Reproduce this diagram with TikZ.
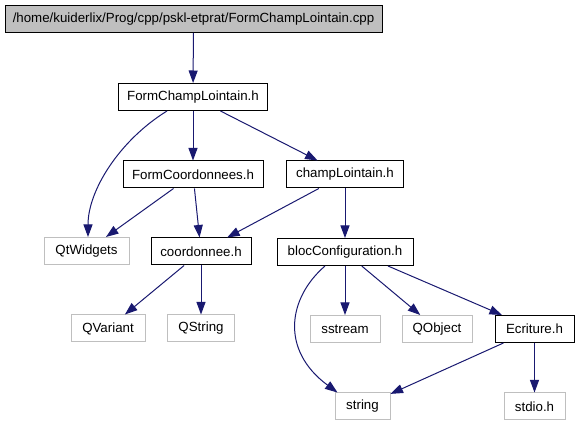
\documentclass[tikz,border=0pt]{standalone}
\usepackage{fontspec}
\setmainfont{Liberation Sans}
\usepackage{tikz}
\usetikzlibrary{arrows.meta,positioning}
\definecolor{edgeblue}{RGB}{25, 25, 112}
\definecolor{boxgray}{RGB}{191, 191, 191}

\begin{document}
\begin{tikzpicture}[x=1pt,y=-1pt,font=\fontsize{13.3}{15}\selectfont,
  hdr/.style={draw=black,fill=white,line width=1pt,minimum height=27pt,inner sep=0pt},
  sys/.style={draw=boxgray,fill=white,line width=1pt,minimum height=27pt,inner sep=0pt},
  dep/.style={edgeblue,line width=1pt,-{Triangle[length=12.5pt,width=9pt]}}]
\useasboundingbox (0,0) rectangle (579,427);
% files
\node[hdr,fill=boxgray,minimum width=377pt] (root) at (193.5,19) {/home/kuiderlix/Prog/cpp/pskl-etprat/FormChampLointain.cpp};
\node[hdr,minimum width=149pt] (fcl) at (193,97) {FormChampLointain.h};
\node[hdr,minimum width=140pt] (fcoord) at (193,174.5) {FormCoordonnees.h};
\node[hdr,minimum width=117pt] (champ) at (345,174.5) {champLointain.h};
\node[sys,minimum width=85pt] (qtw) at (86.5,251) {QtWidgets};
\node[hdr,minimum width=100pt] (coord) at (201,251.5) {coordonnee.h};
\node[hdr,minimum width=136pt] (bloc) at (345,252) {blocConfiguration.h};
\node[sys,minimum width=74pt] (qvar) at (108,328.5) {QVariant};
\node[sys,minimum width=67pt] (qstr) at (201,328.5) {QString};
\node[sys,minimum width=70pt] (sstr) at (345,329) {sstream};
\node[sys,minimum width=70pt] (qobj) at (437,329) {QObject};
\node[hdr,minimum width=79pt] (ecr) at (534.5,329) {Ecriture.h};
\node[sys,minimum width=55pt] (str) at (362.5,406.5) {string};
\node[sys,minimum width=61pt] (stdio) at (534.5,406.5) {stdio.h};
% includes
\draw[dep] (root) -- (fcl);
\draw[dep] (fcl) -- (fcoord);
\draw[dep] ([xshift=-26pt]fcl.south) .. controls (120,140) and (88,190) .. ([xshift=1.5pt]qtw.north);
\draw[dep] (fcl) -- (champ);
\draw[dep] (fcoord) -- (qtw);
\draw[dep] (fcoord) -- (coord);
\draw[dep] (champ) -- (coord);
\draw[dep] (champ) -- (bloc);
\draw[dep] (coord) -- (qvar);
\draw[dep] (coord) -- (qstr);
\draw[dep] ([xshift=-20pt]bloc.south) .. controls (288,298) and (280,350) .. ([xshift=-25pt]str.north);
\draw[dep] (bloc) -- (sstr);
\draw[dep] (bloc) -- (qobj);
\draw[dep] ([xshift=43pt]bloc.south) -- (ecr);
\draw[dep] (ecr) -- (str);
\draw[dep] (ecr) -- (stdio);
\end{tikzpicture}
\end{document}
